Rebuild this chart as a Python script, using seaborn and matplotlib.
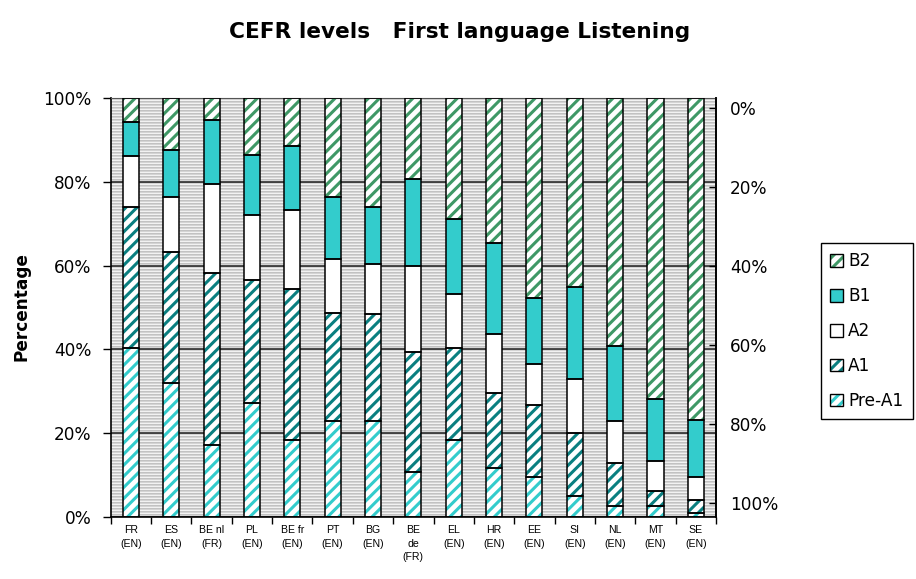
import numpy as np
import pandas as pd
import matplotlib
matplotlib.use("Agg")
import matplotlib.pyplot as plt
import seaborn as sns
from matplotlib.patches import Patch
from matplotlib.legend_handler import HandlerTuple

# ---------------- data ----------------
categories = ["FR\n(EN)", "ES\n(EN)", "BE nl\n(FR)", "PL\n(EN)", "BE fr\n(EN)",
              "PT\n(EN)", "BG\n(EN)", "BE\nde\n(FR)", "EL\n(EN)", "HR\n(EN)",
              "EE\n(EN)", "SI\n(EN)", "NL\n(EN)", "MT\n(EN)", "SE\n(EN)"]
pre_a1 = [40.4, 32.0, 17.1, 27.1, 18.3, 22.9, 22.9, 10.8, 18.3, 11.6, 9.6, 4.9, 2.5, 2.5, 0.8]
a1 = [33.7, 31.3, 41.2, 29.5, 36.2, 25.8, 25.5, 28.6, 22.1, 17.9, 17.1, 15.1, 10.4, 3.6, 3.3]
a2 = [12.1, 13.0, 21.2, 15.4, 18.8, 13.0, 12.1, 20.5, 12.9, 14.2, 9.9, 12.8, 10.0, 7.3, 5.5]
b1 = [8.1, 11.3, 15.3, 14.5, 15.3, 14.8, 13.6, 20.8, 17.9, 21.6, 15.7, 22.2, 17.9, 14.7, 13.5]
b2 = [5.7, 12.4, 5.2, 13.5, 11.4, 23.5, 25.9, 19.3, 28.8, 34.7, 47.7, 45.0, 59.2, 71.9, 76.9]
level_names = ["Pre-A1", "A1", "A2", "B1", "B2"]
left_ticks = [0, 20, 40, 60, 80, 100]
left_labels = ["0%", "20%", "40%", "60%", "80%", "100%"]
right_labels = ["0%", "20%", "40%", "60%", "80%", "100%"]
title = "CEFR levels   First language Listening"

# ---------------- style ----------------
plt.rcParams["font.family"] = ["DejaVu Sans"]
plt.rcParams["hatch.linewidth"] = 2.2

face_colors = ["white", "white", "white", "#33cccc", "white"]
hatch_colors = ["#33cccc", "#0a7f80", "white", "#33cccc", "#3f9866"]
hatches = ["///", "///", None, None, "///"]

fig = plt.figure(figsize=(9.16, 5.79), dpi=100)
ax = fig.add_axes([110.7 / 916, 1 - 516.7 / 579, (716 - 110.7) / 916, 418.4 / 579])

# striped grey background
pattern = np.array([194, 212, 242], dtype=np.uint8)
rows = np.tile(pattern, 140)
img = np.stack([rows, rows, rows], axis=-1)[:, None, :]
ax.imshow(img, extent=[0, 1, 0, 1], transform=ax.transAxes, aspect="auto",
          interpolation="nearest", zorder=0)

series = [pre_a1, a1, a2, b1, b2]
bottom = np.zeros(len(categories))
for vals, fc, hc, ht in zip(series, face_colors, hatch_colors, hatches):
    df = pd.DataFrame({"country": categories, "pct": vals})
    sns.barplot(data=df, x="country", y="pct", order=categories, bottom=bottom,
                width=0.4, color=fc, saturation=1, hatch=ht, edgecolor=hc,
                linewidth=0, errorbar=None, ax=ax, zorder=2)
    sns.barplot(data=df, x="country", y="pct", order=categories, bottom=bottom,
                width=0.4, color="black", fill=False, saturation=1,
                linewidth=1.1, errorbar=None, ax=ax, zorder=3)
    bottom = bottom + np.array(vals)

ax.set_xlim(-0.5, len(categories) - 0.5)
ax.set_ylim(0, 100)
ax.set_xlabel("")
ax.set_ylabel("")
ax.set_yticks(left_ticks)
ax.set_yticklabels(left_labels)
ax.yaxis.grid(True, color="#1a1a1a", linewidth=1.1, zorder=1)
ax.xaxis.grid(False)
ax.set_axisbelow(True)
ax.tick_params(axis="y", direction="out", length=6, width=1, pad=8, labelsize=12.2)
ax.set_xticks(range(len(categories)))
ax.set_xticklabels(categories, fontsize=7.6, family="Liberation Sans", linespacing=1.45)
ax.set_xticks(np.arange(-0.5, len(categories), 1.0), minor=True)
ax.tick_params(axis="x", which="major", length=0, pad=6)
ax.tick_params(axis="x", which="minor", direction="out", length=5, width=1)
for side in ["left", "bottom", "right", "top"]:
    ax.spines[side].set_color("black")
    ax.spines[side].set_linewidth(1.2)
ax.spines["top"].set_color("#555555")
ax.spines["top"].set_linewidth(0.8)

ax2 = ax.twinx()
ax2.set_ylim(103.5, -2.5)
ax2.set_yticks(left_ticks)
ax2.set_yticklabels(right_labels)
ax2.yaxis.set_tick_params(which="major", direction="in", length=5, width=1,
                          pad=10, labelsize=12.2, left=False, right=True)
for side in ["left", "bottom", "top"]:
    ax2.spines[side].set_visible(False)
ax2.spines["right"].set_color("black")
ax2.spines["right"].set_linewidth(1.2)

# legend
handles = []
for fc, hc, ht in zip(face_colors, hatch_colors, hatches):
    handles.append((Patch(facecolor=fc, edgecolor=hc, hatch=ht, linewidth=0),
                    Patch(facecolor="none", edgecolor="black", linewidth=1.0)))
leg = fig.legend(handles[::-1], level_names[::-1], loc="upper left",
                 bbox_to_anchor=(821 / 916, 1 - 243 / 579),
                 handler_map={tuple: HandlerTuple(ndivide=1)},
                 frameon=True, fancybox=False, framealpha=1, edgecolor="black",
                 handlelength=0.75, handleheight=0.75, handletextpad=0.3,
                 labelspacing=1.0, borderpad=0.55, borderaxespad=0,
                 prop={"family": "DejaVu Sans", "size": 12.2})
leg.get_frame().set_linewidth(1.0)

fig.text(460 / 916, 1 - 32 / 579, title, ha="center", va="center",
         fontsize=15.6, fontweight="bold", family="DejaVu Sans")
fig.text(22 / 916, 1 - 307 / 579, "Percentage", rotation=90, ha="center", va="center",
         fontsize=12.2, fontweight="bold", family="DejaVu Sans")

fig.savefig("out.png", dpi=100)
